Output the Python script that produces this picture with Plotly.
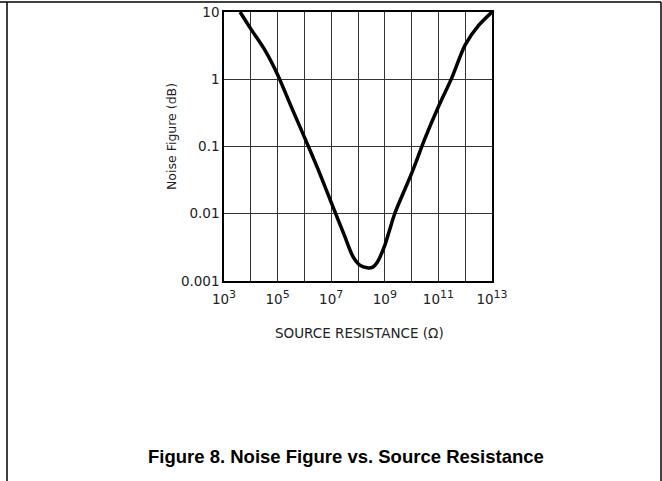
import plotly.graph_objects as go

# Curve (source resistance in ohms, noise figure in dB)
source_resistance = [
    3.98e3, 1e4, 3.16e4, 1e5, 3.16e5, 1e6, 3.16e6, 1e7, 3.16e7, 6.5e7,
    1.17e8, 2.2e8, 3.55e8, 5.25e8, 1e9, 1.5e9, 2.34e9, 1e10, 3.16e10, 1e11,
    3.16e11, 1e12, 3.16e12, 1e13,
]
noise_figure = [
    10, 5.62, 2.82, 1.17, 0.398, 0.138, 0.0468, 0.0148, 0.00468, 0.0023,
    0.00172, 0.00157, 0.00161, 0.0019, 0.0034, 0.0057, 0.01, 0.0398, 0.132,
    0.389, 1.05, 3.24, 6.31, 10,
]

x_exponents = ["3", "", "5", "", "7", "", "9", "", "11", "", "13"]
x_tickvals = [1e3, 1e4, 1e5, 1e6, 1e7, 1e8, 1e9, 1e10, 1e11, 1e12, 1e13]
y_tickvals = [0.001, 0.01, 0.1, 1, 10]
y_ticktext = ["0.001", "0.01", "0.1", "1", "10"]

x_ticktext = [
    f"10<sup><span style='font-size:11px'>{e}</span></sup>" if e else ""
    for e in x_exponents
]

W, H = 662, 481
L, R, T, B = 224, 170, 12, 200
pw, ph = W - L - R, H - T - B


def px(x):
    return (x - L) / pw


def py(y):
    return (H - B - y) / ph


fig = go.Figure()
fig.add_trace(
    go.Scatter(
        x=source_resistance,
        y=noise_figure,
        mode="lines",
        line=dict(color="black", width=3.5, shape="spline", smoothing=0.8),
        showlegend=False,
        hoverinfo="skip",
    )
)

axis_font = dict(family="DejaVu Sans", size=13.5, color="#222")
axis_style = dict(
    type="log",
    tickfont=axis_font,
    showgrid=True,
    gridcolor="#333",
    gridwidth=1,
    showline=True,
    linecolor="black",
    linewidth=1.5,
    mirror=True,
    ticks="",
    zeroline=False,
    fixedrange=True,
    automargin=False,
)
fig.update_xaxes(range=[3, 13], tickvals=x_tickvals, ticktext=x_ticktext,
                 ticklabelstandoff=5, **axis_style)
fig.update_yaxes(range=[-3, 1], tickvals=y_tickvals, ticktext=y_ticktext,
                 **axis_style)

# page frame lines
frame = dict(type="line", xref="paper", yref="paper", line=dict(color="black", width=1.5))
fig.add_shape(x0=px(7), x1=px(7), y0=py(2), y1=py(481), **frame)
fig.add_shape(x0=px(661), x1=px(661), y0=py(2), y1=py(481), **frame)
fig.add_shape(x0=px(0), x1=px(661), y0=py(2), y1=py(2), **frame)

label = dict(xref="paper", yref="paper", showarrow=False,
             xanchor="center", yanchor="middle")
fig.add_annotation(
    text="SOURCE RESISTANCE (\u03a9)", x=px(359), y=py(333),
    font=dict(family="DejaVu Sans", size=13.5, color="#222"), **label,
)
fig.add_annotation(
    text="Noise Figure (dB)", x=px(171), y=py(137), textangle=-90,
    font=dict(family="DejaVu Sans", size=12.5, color="#222"), **label,
)
fig.add_annotation(
    text="<b>Figure 8. Noise Figure vs. Source Resistance</b>", x=px(346), y=py(457),
    font=dict(family="Liberation Sans", size=18.5, color="black"), **label,
)

fig.update_layout(
    width=W,
    height=H,
    margin=dict(l=L, r=R, t=T, b=B),
    plot_bgcolor="white",
    paper_bgcolor="white",
)

fig.write_html("out.html", config={"displayModeBar": False},
               post_script="document.body.style.margin='0';")
